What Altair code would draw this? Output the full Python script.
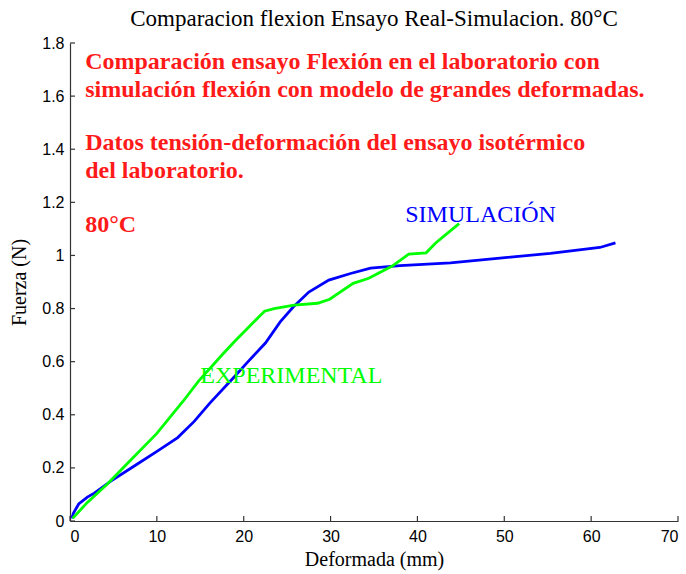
import altair as alt
import pandas as pd

# Simulated bending curve (large-deformation model)
sim_x = [0.2, 0.4, 1.0, 2.0, 2.8, 4.7, 7.4, 10.1, 12.4, 14.3, 16.1, 18.9, 20.5,
         22.5, 24.2, 25.7, 27.5, 29.8, 32.3, 34.6, 38.0, 43.8, 49.5, 55.3, 61.0, 62.8]
sim_y = [0.01, 0.03, 0.064, 0.09, 0.105, 0.15, 0.207, 0.264, 0.314, 0.375, 0.444,
         0.542, 0.60, 0.67, 0.75, 0.806, 0.862, 0.907, 0.932, 0.952, 0.962, 0.972,
         0.99, 1.008, 1.03, 1.047]

# Laboratory bending test curve
exp_x = [0.3, 2.0, 4.3, 7.0, 10.0, 13.0, 14.8, 17.6, 19.0, 22.4, 23.5, 25.8, 28.5,
         29.9, 32.6, 34.4, 37.1, 39.0, 41.0, 42.1, 44.8]
exp_y = [0.01, 0.07, 0.139, 0.23, 0.33, 0.45, 0.527, 0.629, 0.678, 0.79, 0.80,
         0.813, 0.82, 0.835, 0.895, 0.914, 0.96, 1.005, 1.01, 1.047, 1.12]

x_ticks = [0, 10, 20, 30, 40, 50, 60, 70]
y_ticks = [0, 0.2, 0.4, 0.6, 0.8, 1.0, 1.2, 1.4, 1.6, 1.8]

series_names = ["SIMULACIÓN", "EXPERIMENTAL"]
series_colors = ["#0000ff", "#00ff00"]

rows = []
for i, (x, y) in enumerate(zip(sim_x, sim_y)):
    rows.append({"serie": series_names[0], "i": i, "d": x, "f": y})
for i, (x, y) in enumerate(zip(exp_x, exp_y)):
    rows.append({"serie": series_names[1], "i": i, "d": x, "f": y})
df = pd.DataFrame(rows)

SERIF = "Liberation Serif"
SANS = "Liberation Sans"
AXIS_COLOR = "#333333"

X_MAX, Y_MAX = 70, 1.8
W, H = 608, 478
TICK_PX = 5

x_scale = alt.Scale(domain=[0, X_MAX], nice=False, zero=False)
y_scale = alt.Scale(domain=[0, Y_MAX], nice=False, zero=False)

x_axis = alt.Axis(
    values=x_ticks, format="d", title="Deformada (mm)", grid=False,
    ticks=False, labelPadding=7, titlePadding=5,
)
y_axis = alt.Axis(
    values=y_ticks, title="Fuerza (N)", grid=False, ticks=False,
    labelExpr="datum.value == 0 ? '0' : (datum.value == 1 ? '1' : format(datum.value, '.1f'))",
    labelPadding=6, titlePadding=12,
)

lines = alt.Chart(df).mark_line(strokeWidth=2.8, clip=True).encode(
    x=alt.X("d:Q", scale=x_scale, axis=x_axis),
    y=alt.Y("f:Q", scale=y_scale, axis=y_axis),
    color=alt.Color("serie:N", scale=alt.Scale(domain=series_names, range=series_colors), legend=None),
    order="i:Q",
    detail="serie:N",
)

# Inward-pointing tick marks on the bottom and left axes
xt = pd.DataFrame({"t": x_ticks})
yt = pd.DataFrame({"t": y_ticks})
x_tick_marks = alt.Chart(xt).mark_rule(color=AXIS_COLOR, strokeWidth=1.2).encode(
    x="t:Q", y=alt.datum(0), y2=alt.datum(Y_MAX * TICK_PX / H),
)
y_tick_marks = alt.Chart(yt).mark_rule(color=AXIS_COLOR, strokeWidth=1.2).encode(
    y="t:Q", x=alt.datum(0), x2=alt.datum(X_MAX * TICK_PX / W),
)

def note(text, x, y, color, size, weight="normal"):
    return alt.Chart().mark_text(
        text=text, align="left", baseline="middle", font=SERIF,
        fontSize=size, fontWeight=weight, color=color,
    ).encode(x=alt.datum(x), y=alt.datum(y))

red = "#ff1a1a"
notes = [
    note("Comparación ensayo Flexión en el laboratorio con", 1.75, 1.728, red, 24, "bold"),
    note("simulación flexión con modelo de grandes deformadas.", 1.75, 1.623, red, 24, "bold"),
    note("Datos tensión-deformación del ensayo isotérmico", 1.75, 1.423, red, 24, "bold"),
    note("del laboratorio.", 1.75, 1.318, red, 24, "bold"),
    note("80°C", 1.75, 1.114, red, 24, "bold"),
    note("SIMULACIÓN", 38.6, 1.152, "#0000ff", 24),
    note("EXPERIMENTAL", 15.0, 0.546, "#00ff00", 24),
]

chart = alt.layer(x_tick_marks, y_tick_marks, lines, *notes).properties(
    width=W,
    height=H,
    background="white",
    title=alt.Title(
        "Comparacion flexion Ensayo Real-Simulacion. 80°C",
        font=SERIF, fontSize=23, fontWeight="normal", color="black",
        anchor="middle", offset=4,
    ),
    autosize=alt.AutoSizeParams(type="none"),
    padding={"left": 70, "top": 43, "right": 8, "bottom": 53},
).configure_view(stroke=None).configure_axis(
    domainColor=AXIS_COLOR, domainWidth=1.2,
    labelFont=SANS, labelFontSize=16, labelColor="black",
    titleFont=SERIF, titleFontSize=20, titleFontWeight="normal", titleColor="black",
)

chart.save("out.html", embed_options={"renderer": "svg", "actions": False})
